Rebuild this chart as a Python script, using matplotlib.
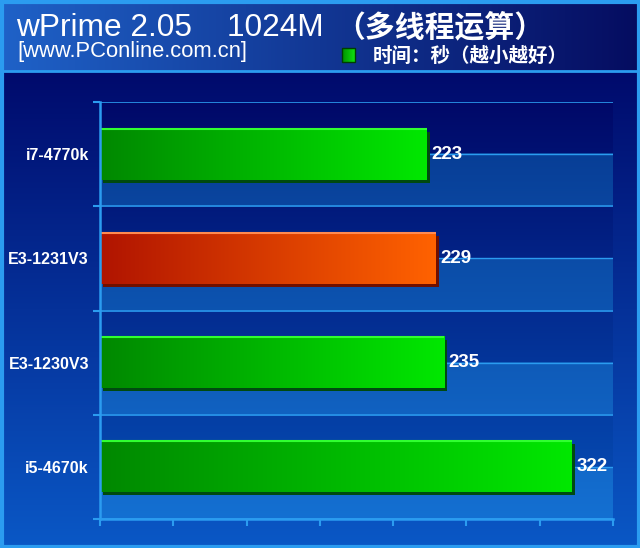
import numpy as np
import matplotlib
matplotlib.use("Agg")
import matplotlib.pyplot as plt
from matplotlib.patches import Rectangle
from matplotlib.colors import to_rgb

# ---------------- data ----------------
categories = ["i7-4770k", "E3-1231V3", "E3-1230V3", "i5-4670k"]
values = [223, 229, 235, 322]
highlight = [False, True, False, False]
title_latin = "wPrime 2.05    1024M"
title_cjk = "（多线程运算）"
subtitle = "[www.PConline.com.cn]"
legend_label = "时间：秒（越小越好）"
x_ticks = [0, 50, 100, 150, 200, 250, 300, 350]

W, H = 640, 548
LATIN = ["Liberation Sans", "DejaVu Sans"]
CJK = ["Noto Sans CJK SC", "DejaVu Sans"]
LINE = "#2b9cf0"


def grad(c1, c2, n=256):
    a, b = np.array(to_rgb(c1)), np.array(to_rgb(c2))
    t = np.linspace(0, 1, n)[:, None]
    return a * (1 - t) + b * t


fig = plt.figure(figsize=(W / 100, H / 100), dpi=100)

# ---------- figure background ----------
bg = fig.add_axes([0, 0, 1, 1], zorder=-10)
bg.axis("off")
lower = grad("#000a6c", "#0a58c6", 300)[:, None, :]
bg.imshow(lower, extent=(0, W, H, 71), aspect="auto", interpolation="bilinear")
header = grad("#1f62c8", "#050c60", 300)[None, :, :]
bg.imshow(header, extent=(0, W, 71, 0), aspect="auto", interpolation="bilinear")
bg.plot([0, W], [71, 71], color=LINE, lw=2)
bg.add_patch(Rectangle((1.5, 1.5), W - 3, H - 3, fill=False, ec=LINE, lw=3))

# titles
bg.text(16, 36, title_latin, color="white", fontsize=22.8, family=LATIN,
        va="baseline", ha="left")
bg.text(335, 36, title_cjk, color="white", fontsize=21.5, family=CJK,
        fontweight="bold", va="baseline", ha="left")
bg.text(17, 57.5, subtitle, color="white", fontsize=15.8, family=LATIN,
        va="baseline", ha="left")
# legend
sq = grad("#009000", "#10e010", 50)[None, :, :]
bg.imshow(sq, extent=(342, 355, 62, 48), aspect="auto")
bg.add_patch(Rectangle((342, 48), 13, 14, fill=False, ec="#004000", lw=1))
bg.text(373, 56, legend_label, color="white", fontsize=14, family=CJK,
        fontweight="bold", va="center", ha="left")
bg.set_xlim(0, W)
bg.set_ylim(H, 0)

# ---------- main axes ----------
ax = fig.add_axes([100 / W, 1 - 519 / H, 513 / W, 417 / H])
ax.set_facecolor("none")
n = len(categories)
pos = np.arange(n)[::-1]
ymin, ymax = -0.5, n - 0.5
xmax = x_ticks[-1]

# plot background: darker upper halves, lighter lower halves per band
rows = 600
yy = np.linspace(ymax, ymin, rows)
dark = grad("#000868", "#0650b8", rows)
light = grad("#06378e", "#1470d2", rows)
frac = (yy - ymin) % 1.0
img = np.where((frac < 0.5)[:, None], light, dark)[:, None, :]
ax.imshow(img, extent=(0, xmax, ymin, ymax), aspect="auto",
          interpolation="nearest", zorder=0)

# gridlines
for k in range(n + 1):
    ax.axhline(ymin + k, color=LINE, lw=1.2, zorder=1)
for p in pos:
    ax.axhline(p, color=LINE, lw=1.0, zorder=1)

bh = 0.49
px_x = xmax / 513.0
px_y = (ymax - ymin) / 417.0
for p, v, hl in zip(pos, values, highlight):
    if hl:
        c1, c2, edge, shadow = "#b01400", "#ff6200", "#ff8a50", "#701000"
    else:
        c1, c2, edge, shadow = "#008800", "#00e800", "#30ff30", "#004a10"
    y0, y1 = p - bh / 2, p + bh / 2
    ax.add_patch(Rectangle((3 * px_x, y0 - 3 * px_y), v, bh, fc=shadow,
                           ec="none", zorder=2))
    g = grad(c1, c2, 256)[None, :, :]
    ax.imshow(g, extent=(0, v, y0, y1), aspect="auto",
              interpolation="bilinear", zorder=3)
    ax.plot([0, v], [y1, y1], color=edge, lw=1.5, zorder=4,
            solid_capstyle="butt")
    ax.plot([0, 0], [y0, y1], color=edge, lw=1.5, zorder=4)
    ax.text(v + 3, p, str(v), color="white", fontsize=13.5, fontweight="bold",
            family=LATIN, va="center", ha="left", zorder=5)

ax.set_xlim(0, xmax)
ax.set_ylim(ymin, ymax)
ax.set_xticks(x_ticks)
ax.set_xticklabels([])
ax.set_yticks(pos)
ax.set_yticklabels(categories)
ax.set_yticks(np.arange(ymin, ymax + 0.01, 1.0), minor=True)
ax.tick_params(axis="y", which="major", length=0, pad=8, labelcolor="white",
               labelsize=11.5)
for lbl in ax.get_yticklabels():
    lbl.set_fontweight("bold")
    lbl.set_family(LATIN)
ax.tick_params(axis="y", which="minor", length=5, width=1.5, color=LINE)
ax.tick_params(axis="x", length=5, width=1.5, color=LINE)
for s in ["top", "right"]:
    ax.spines[s].set_visible(False)
for s in ["left", "bottom"]:
    ax.spines[s].set_color(LINE)
    ax.spines[s].set_linewidth(1.8)
    ax.spines[s].set_zorder(6)

fig.savefig("out.png", dpi=100)
